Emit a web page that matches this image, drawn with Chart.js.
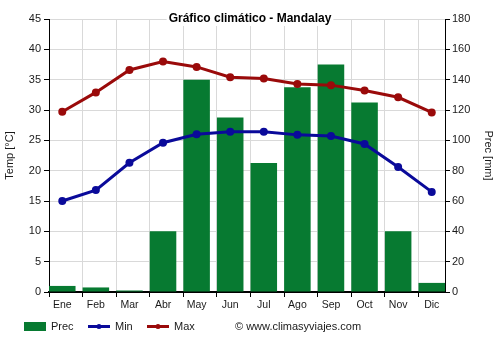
<!DOCTYPE html>
<html lang="es">
<head>
<meta charset="utf-8">
<title>Gráfico climático - Mandalay</title>
<script src="https://cdn.jsdelivr.net/npm/chart.js@4.4.1/dist/chart.umd.min.js"></script>
<style>
  html, body { margin: 0; padding: 0; background: #fff; }
  #grafico { display: block; }
</style>
</head>
<body>
<canvas id="grafico" width="500" height="350"></canvas>
<script>
/* Datos climáticos - Mandalay */
const meses = ['Ene', 'Feb', 'Mar', 'Abr', 'May', 'Jun', 'Jul', 'Ago', 'Sep', 'Oct', 'Nov', 'Dic'];
const precMm = [4, 3, 1, 40, 140, 115, 85, 135, 150, 125, 40, 6];
const tempMin = [15.0, 16.8, 21.3, 24.6, 26.0, 26.4, 26.4, 25.9, 25.7, 24.4, 20.6, 16.5];
const tempMax = [29.7, 32.9, 36.6, 38.0, 37.1, 35.4, 35.2, 34.3, 34.1, 33.2, 32.1, 29.6];
const ticksTemp = [0, 5, 10, 15, 20, 25, 30, 35, 40, 45];
const ticksPrec = [0, 20, 40, 60, 80, 100, 120, 140, 160, 180];

const TITULO = 'Gráfico climático - Mandalay';
const FUENTE = '"Liberation Sans", Arial, sans-serif';
const MEDIA_BARRA = 0.395; // media anchura de barra, en unidades de mes

const colores = {
    prec: '#077a31',
    min: '#0a0a9a',
    max: '#9a0a0a',
    rejilla: '#d9d9d9',
    eje: '#000000',
    texto: '#1a1a1a'
};

Chart.defaults.font.family = FUENTE;
Chart.defaults.color = colores.texto;

const aPuntos = serie => serie.map((v, i) => ({ x: i, y: v }));

/* título, leyenda y pie dibujados a mano */
const textosExtra = {
    id: 'textosExtra',
    afterDraw(chart) {
        const ctx = chart.ctx;
        ctx.save();

        // título con fondo blanco sobre la rejilla
        ctx.font = 'bold 12px ' + FUENTE;
        const anchoTit = ctx.measureText(TITULO).width;
        const cx = chart.width / 2;
        ctx.fillStyle = '#fff';
        ctx.fillRect(cx - anchoTit / 2 - 2, 11, anchoTit + 4, 15);
        ctx.fillStyle = '#000';
        ctx.textAlign = 'center';
        ctx.textBaseline = 'middle';
        ctx.fillText(TITULO, cx, 18.5);

        // leyenda
        const yLey = 326.5;
        ctx.font = '11px ' + FUENTE;
        ctx.textAlign = 'left';

        ctx.fillStyle = colores.prec;
        ctx.fillRect(24, 322, 22, 9);
        ctx.fillStyle = colores.texto;
        ctx.fillText('Prec', 51, yLey);

        [[88, colores.min, 'Min'], [147, colores.max, 'Max']].forEach(([x0, col, txt]) => {
            ctx.strokeStyle = col;
            ctx.lineWidth = 3;
            ctx.beginPath();
            ctx.moveTo(x0, yLey);
            ctx.lineTo(x0 + 22, yLey);
            ctx.stroke();
            ctx.fillStyle = col;
            ctx.beginPath();
            ctx.arc(x0 + 11, yLey, 2.5, 0, Math.PI * 2);
            ctx.fill();
            ctx.fillStyle = colores.texto;
            ctx.fillText(txt, x0 + 27, yLey);
        });

        ctx.fillText('\u00a9 www.climasyviajes.com', 235, yLey);
        ctx.restore();
    }
};

new Chart(document.getElementById('grafico'), {
    type: 'bar',
    data: {
        datasets: [
            {
                type: 'line',
                label: 'Max',
                data: aPuntos(tempMax),
                yAxisID: 'y',
                borderColor: colores.max,
                backgroundColor: colores.max,
                borderWidth: 3,
                pointRadius: 4,
                pointBorderWidth: 0,
                tension: 0,
                order: 1
            },
            {
                type: 'line',
                label: 'Min',
                data: aPuntos(tempMin),
                yAxisID: 'y',
                borderColor: colores.min,
                backgroundColor: colores.min,
                borderWidth: 3,
                pointRadius: 4,
                pointBorderWidth: 0,
                tension: 0,
                order: 2
            },
            {
                label: 'Prec',
                data: aPuntos(precMm),
                yAxisID: 'y2',
                backgroundColor: colores.prec,
                borderWidth: 0,
                barPercentage: 0.79,
                categoryPercentage: 1,
                order: 3
            }
        ]
    },
    options: {
        responsive: false,
        animation: false,
        layout: { padding: { top: 19, bottom: 28, left: 0, right: 0 } },
        plugins: {
            legend: { display: false },
            title: { display: false },
            tooltip: { enabled: false }
        },
        scales: {
            x: {
                type: 'linear',
                min: -MEDIA_BARRA,
                max: meses.length - 1 + MEDIA_BARRA,
                offset: false,
                afterBuildTicks(scale) {
                    scale.ticks = meses.map((m, i) => ({ value: i - MEDIA_BARRA }));
                },
                afterFit(scale) { scale.height = 30; },
                ticks: {
                    autoSkip: false,
                    maxRotation: 0,
                    minRotation: 0,
                    labelOffset: 13.3,
                    padding: 2,
                    font: { size: 10.5 },
                    callback: (v, i) => meses[i]
                },
                grid: {
                    offset: false,
                    color: colores.rejilla,
                    tickColor: colores.eje,
                    tickLength: 5
                },
                border: { color: colores.eje, width: 2 }
            },
            y: {
                position: 'left',
                min: ticksTemp[0],
                max: ticksTemp[ticksTemp.length - 1],
                afterFit(scale) { scale.width = 49; },
                ticks: {
                    stepSize: ticksTemp[1] - ticksTemp[0],
                    padding: 3,
                    font: { size: 11 }
                },
                grid: {
                    color: colores.rejilla,
                    tickColor: colores.eje,
                    tickLength: 5
                },
                border: { color: colores.eje, width: 1 },
                title: {
                    display: true,
                    text: 'Temp [°C]',
                    font: { size: 11 },
                    padding: { top: 3, bottom: 0 }
                }
            },
            y2: {
                position: 'right',
                min: ticksPrec[0],
                max: ticksPrec[ticksPrec.length - 1],
                afterFit(scale) { scale.width = 55; },
                ticks: {
                    stepSize: (ticksPrec[1] - ticksPrec[0]) / 2,
                    padding: 2,
                    font: { size: 11 },
                    callback: v => ticksPrec.includes(v) ? String(v) : ''
                },
                grid: {
                    drawOnChartArea: false,
                    tickColor: colores.eje,
                    tickLength: 5
                },
                border: { color: colores.eje, width: 1 },
                title: {
                    display: true,
                    text: 'Prec [mm]',
                    font: { size: 11 },
                    padding: { top: 5, bottom: 0 }
                }
            }
        }
    },
    plugins: [textosExtra]
});
</script>
</body>
</html>
